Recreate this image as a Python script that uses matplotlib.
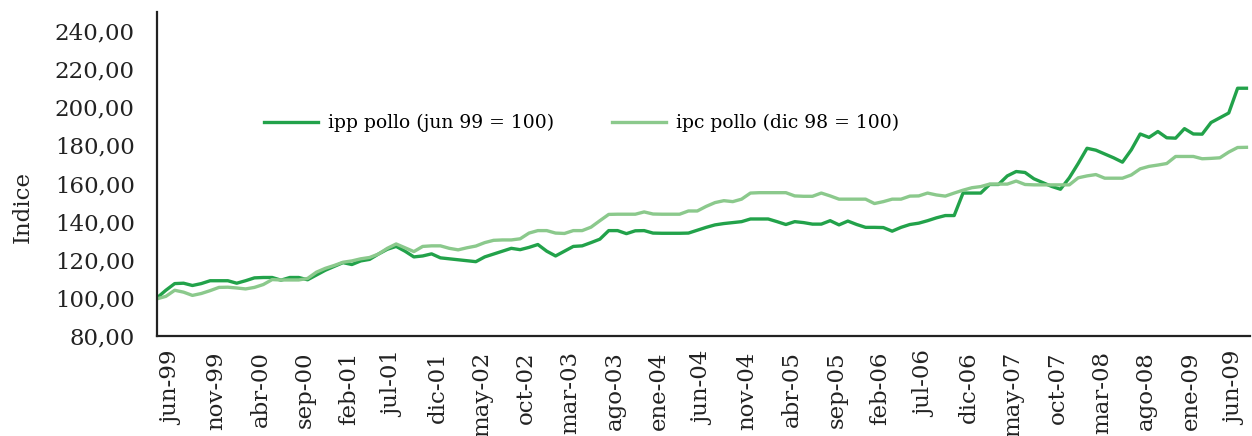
import matplotlib
matplotlib.use("Agg")
import matplotlib.pyplot as plt
import matplotlib.transforms as mtransforms
from matplotlib.ticker import FuncFormatter

# monthly values, jun-99 onwards
ipp_pollo = [
    100.0, 104.0, 107.5, 107.7, 106.5, 107.5, 109.0, 109.0, 109.0, 107.7,
    109.0, 110.5, 110.7, 110.7, 109.3, 110.7, 110.7, 109.5, 112.0, 114.5,
    116.5, 118.5, 117.5, 119.4, 120.2, 123.0, 125.5, 127.0, 124.5, 121.5,
    122.0, 123.1, 121.0, 120.5, 120.0, 119.5, 119.0, 121.5, 123.0, 124.5,
    126.0, 125.3, 126.5, 128.0, 124.5, 122.0, 124.5, 127.0, 127.3, 129.0,
    130.8, 135.3, 135.3, 133.7, 135.2, 135.3, 134.0, 133.9, 133.9, 133.9,
    134.0, 135.5, 137.0, 138.3, 139.0, 139.5, 140.0, 141.4, 141.4, 141.4,
    140.0, 138.5, 140.0, 139.5, 138.7, 138.7, 140.5, 138.3, 140.3, 138.5,
    137.0, 137.0, 136.9, 135.0, 137.0, 138.5, 139.2, 140.5, 142.0, 143.2,
    143.2, 155.0, 155.0, 155.0, 159.5, 159.5, 164.0, 166.3, 165.8, 162.5,
    160.5, 158.5, 157.0, 163.0, 170.5, 178.5, 177.5, 175.5, 173.5, 171.2,
    177.7, 186.0, 184.2, 187.3, 184.0, 183.8, 188.8, 186.0, 185.9, 192.0,
    194.5, 197.0, 210.0, 210.0,
]
ipc_pollo = [
    99.5, 100.8, 104.0, 103.0, 101.3, 102.3, 103.8, 105.5, 105.6, 105.2,
    104.7, 105.5, 107.0, 109.6, 109.4, 109.4, 109.4, 110.2, 113.5, 115.5,
    117.0, 118.7, 119.4, 120.5, 121.2, 123.0, 126.0, 128.3, 126.3, 124.3,
    127.0, 127.3, 127.3, 126.0, 125.2, 126.3, 127.2, 129.0, 130.2, 130.4,
    130.4, 131.0, 134.0, 135.3, 135.3, 134.0, 133.8, 135.3, 135.3, 137.1,
    140.5, 143.8, 143.9, 143.9, 143.9, 145.1, 144.0, 143.9, 143.9, 143.9,
    145.6, 145.6, 148.0, 150.0, 151.0, 150.5, 151.8, 155.0, 155.2, 155.2,
    155.2, 155.2, 153.5, 153.3, 153.3, 155.0, 153.5, 151.8, 151.8, 151.8,
    151.8, 149.5, 150.5, 151.8, 151.8, 153.4, 153.5, 155.0, 154.0, 153.4,
    155.0, 156.5, 157.8, 158.4, 159.7, 159.7, 159.7, 161.3, 159.5, 159.3,
    159.3, 159.3, 159.3, 159.3, 163.0, 164.0, 164.7, 162.8, 162.8, 162.8,
    164.5, 167.7, 169.0, 169.7, 170.5, 174.2, 174.2, 174.2, 173.0, 173.2,
    173.5, 176.5, 178.9, 179.0,
]
tick_labels = [
    "jun-99", "nov-99", "abr-00", "sep-00", "feb-01", "jul-01", "dic-01",
    "may-02", "oct-02", "mar-03", "ago-03", "ene-04", "jun-04", "nov-04",
    "abr-05", "sep-05", "feb-06", "jul-06", "dic-06", "may-07", "oct-07",
    "mar-08", "ago-08", "ene-09", "jun-09",
]
series_names = ["ipp pollo (jun 99 = 100)", "ipc pollo (dic 98 = 100)"]

DARK = "#22a24a"
LIGHT = "#8bc98c"
INK = "#222222"
SERIF = "DejaVu Serif"

fig = plt.figure(figsize=(12.52, 4.36), dpi=100)
ax = fig.add_axes([157 / 1252, 1 - 336 / 436, 1093 / 1252, 324 / 436])

months = range(len(ipp_pollo))
ax.plot(months, ipp_pollo, color=DARK, lw=2.4, label=series_names[0])
ax.plot(months, ipc_pollo, color=LIGHT, lw=2.4, label=series_names[1])

ax.set_xlim(0, 123.4)
ax.set_ylim(80, 250)
ax.set_yticks(range(80, 241, 20))
ax.yaxis.set_major_formatter(FuncFormatter(lambda v, p: f"{v:.2f}".replace(".", ",")))

ax.set_xticks(range(0, 5 * len(tick_labels), 5))
ax.set_xticklabels(tick_labels, rotation=90, ha="center", va="top")

ax.tick_params(axis="both", length=0, labelsize=16.5, labelcolor=INK)
ax.tick_params(axis="y", pad=16)
ax.tick_params(axis="x", pad=11)
for lbl in ax.get_xticklabels() + ax.get_yticklabels():
    lbl.set_fontfamily(SERIF)

# labels sit a little right of the category points in the original
shift = mtransforms.ScaledTranslation(0.15, 0, fig.dpi_scale_trans)
for lbl in ax.get_xticklabels():
    lbl.set_transform(lbl.get_transform() + shift)

for side in ("top", "right"):
    ax.spines[side].set_visible(False)
for side in ("left", "bottom"):
    ax.spines[side].set_color(INK)
    ax.spines[side].set_linewidth(1.6)

fig.text(23 / 1252, 1 - 207 / 436, "Indice", rotation=90, ha="center",
         va="center", fontsize=16.5, family=SERIF, color=INK)

ax.legend(loc="center left", bbox_to_anchor=(264 / 1252, 1 - 123 / 436),
          bbox_transform=fig.transFigure, ncol=2, frameon=False,
          borderpad=0, borderaxespad=0, handlelength=2.9, handletextpad=0.5,
          columnspacing=3.1, prop={"family": SERIF, "size": 13.5})

fig.savefig("out.png", dpi=100)
